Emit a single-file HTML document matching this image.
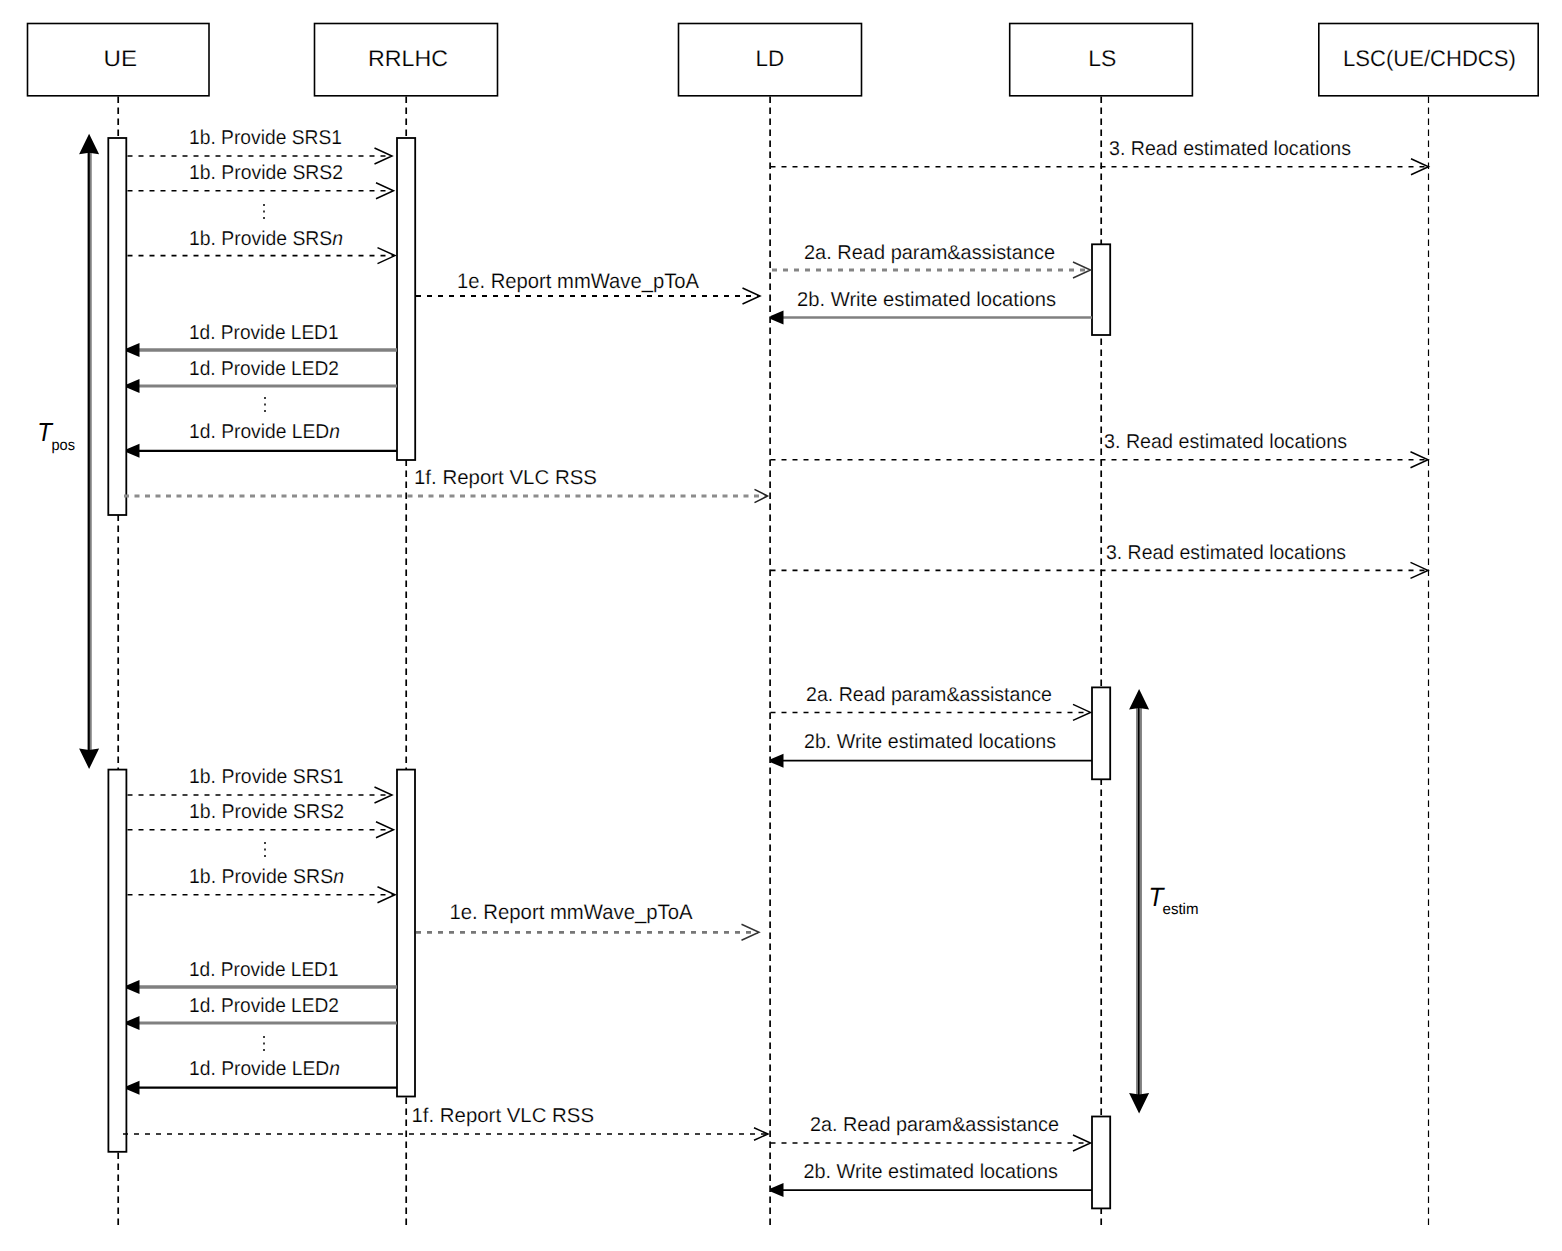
<!DOCTYPE html>
<html><head><meta charset="utf-8"><title>Sequence diagram</title>
<style>html,body{margin:0;padding:0;background:#fff;width:1562px;height:1251px;overflow:hidden}svg{display:block}text{font-family:"Liberation Sans", sans-serif;text-rendering:geometricPrecision}.t{stroke:#fff;stroke-width:0.2px}</style>
</head><body>
<svg width="1562" height="1251" viewBox="0 0 1562 1251" font-family='"Liberation Sans", sans-serif' fill="#000">
<rect x="27.5" y="23.5" width="181.5" height="72.3" fill="#fff" stroke="#000" stroke-width="1.6"/>
<rect x="314.5" y="23.5" width="183.0" height="72.3" fill="#fff" stroke="#000" stroke-width="1.6"/>
<rect x="678.5" y="23.5" width="183.0" height="72.3" fill="#fff" stroke="#000" stroke-width="1.6"/>
<rect x="1009.7" y="23.5" width="182.7" height="72.3" fill="#fff" stroke="#000" stroke-width="1.6"/>
<rect x="1318.8" y="23.5" width="219.4" height="72.3" fill="#fff" stroke="#000" stroke-width="1.6"/>
<line x1="118.2" y1="96.5" x2="118.2" y2="1226" stroke="#000" stroke-width="1.7" stroke-dasharray="6.5 4.5"/>
<line x1="406.2" y1="96.5" x2="406.2" y2="1226" stroke="#000" stroke-width="1.7" stroke-dasharray="6.5 4.5"/>
<line x1="770.1" y1="96.5" x2="770.1" y2="1226" stroke="#000" stroke-width="1.7" stroke-dasharray="6.5 4.5"/>
<line x1="1101.2" y1="96.5" x2="1101.2" y2="1226" stroke="#000" stroke-width="1.7" stroke-dasharray="6.5 4.5"/>
<line x1="1428.5" y1="96.5" x2="1428.5" y2="1226" stroke="#000" stroke-width="1.2" stroke-dasharray="6.5 4.5"/>
<rect x="108.3" y="138.0" width="18.0" height="377.0" fill="#fff" stroke="#000" stroke-width="1.8"/>
<rect x="397.0" y="138.0" width="18.2" height="322.0" fill="#fff" stroke="#000" stroke-width="1.8"/>
<rect x="1092.0" y="244.3" width="18.2" height="90.7" fill="#fff" stroke="#000" stroke-width="1.8"/>
<rect x="1092.0" y="687.4" width="18.2" height="91.9" fill="#fff" stroke="#000" stroke-width="1.8"/>
<rect x="108.4" y="769.6" width="18.0" height="382.2" fill="#fff" stroke="#000" stroke-width="1.8"/>
<rect x="397.0" y="769.6" width="18.0" height="326.9" fill="#fff" stroke="#000" stroke-width="1.8"/>
<rect x="1092.0" y="1116.5" width="18.2" height="91.9" fill="#fff" stroke="#000" stroke-width="1.8"/>
<text class="t" x="103.5" y="65.9" font-size="22.6" textLength="33.5" lengthAdjust="spacingAndGlyphs">UE</text>
<text class="t" x="368.0" y="65.9" font-size="22.6" textLength="80.0" lengthAdjust="spacingAndGlyphs">RRLHC</text>
<text class="t" x="755.5" y="65.9" font-size="22.6" textLength="28.7" lengthAdjust="spacingAndGlyphs">LD</text>
<text class="t" x="1088.3" y="65.9" font-size="22.6" textLength="28.1" lengthAdjust="spacingAndGlyphs">LS</text>
<text class="t" x="1343.0" y="65.9" font-size="22.6" textLength="172.8" lengthAdjust="spacingAndGlyphs">LSC(UE/CHDCS)</text>
<line x1="127.5" y1="156" x2="391" y2="156" stroke="#000" stroke-width="1.6" stroke-dasharray="5 6"/>
<polyline points="374.5,148.0 392,156 374.5,164.0" fill="none" stroke="#000" stroke-width="1.5"/>
<text class="t" x="189" y="144.2" font-size="20" textLength="153.0" lengthAdjust="spacingAndGlyphs">1b. Provide SRS1</text>
<line x1="127.5" y1="190.8" x2="392.5" y2="190.8" stroke="#000" stroke-width="1.6" stroke-dasharray="5 6"/>
<polyline points="376.0,182.8 393.5,190.8 376.0,198.8" fill="none" stroke="#000" stroke-width="1.5"/>
<text class="t" x="189" y="179.0" font-size="20" textLength="154.0" lengthAdjust="spacingAndGlyphs">1b. Provide SRS2</text>
<line x1="264" y1="204" x2="264" y2="223" stroke="#000" stroke-width="1.5" stroke-dasharray="2 4.5"/>
<line x1="127.5" y1="255.6" x2="394" y2="255.6" stroke="#000" stroke-width="1.6" stroke-dasharray="5 6"/>
<polyline points="377.5,247.6 395,255.6 377.5,263.6" fill="none" stroke="#000" stroke-width="1.5"/>
<text class="t" x="189" y="244.6" font-size="20" textLength="154.0" lengthAdjust="spacingAndGlyphs">1b. Provide SRS<tspan font-style="italic">n</tspan></text>
<line x1="770.5" y1="166.7" x2="1427.5" y2="166.7" stroke="#000" stroke-width="1.6" stroke-dasharray="5 6"/>
<polyline points="1411.0,158.7 1428.5,166.7 1411.0,174.7" fill="none" stroke="#000" stroke-width="1.5"/>
<text class="t" x="1109" y="154.6" font-size="20" textLength="242.0" lengthAdjust="spacingAndGlyphs">3. Read estimated locations</text>
<line x1="772" y1="270" x2="1089.5" y2="270" stroke="#858585" stroke-width="3" stroke-dasharray="5 6"/>
<polyline points="1073.0,262.0 1090.5,270 1073.0,278.0" fill="none" stroke="#333" stroke-width="1.5"/>
<text class="t" x="804" y="258.8" font-size="20" textLength="251.0" lengthAdjust="spacingAndGlyphs">2a. Read param&amp;assistance</text>
<line x1="416" y1="296" x2="759" y2="296" stroke="#000" stroke-width="2" stroke-dasharray="5 6"/>
<polyline points="742.5,288.0 760,296 742.5,304.0" fill="none" stroke="#000" stroke-width="1.5"/>
<text class="t" x="457" y="288.2" font-size="21" textLength="242.0" lengthAdjust="spacingAndGlyphs">1e. Report mmWave_pToA</text>
<line x1="1092" y1="317.5" x2="776.5" y2="317.5" stroke="#808080" stroke-width="2.6"/>
<polygon points="770.5,316.0 783.5,310.5 783.5,324.5 770.5,319.0" fill="#000"/>
<text class="t" x="797" y="306.0" font-size="20" textLength="259.0" lengthAdjust="spacingAndGlyphs">2b. Write estimated locations</text>
<line x1="397" y1="350" x2="132.5" y2="350" stroke="#808080" stroke-width="3.5"/>
<polygon points="126.5,348.5 139.5,343.0 139.5,357.0 126.5,351.5" fill="#000"/>
<text class="t" x="189" y="338.7" font-size="20" textLength="149.5" lengthAdjust="spacingAndGlyphs">1d. Provide LED1</text>
<line x1="397" y1="386" x2="132.5" y2="386" stroke="#808080" stroke-width="3"/>
<polygon points="126.5,384.5 139.5,379.0 139.5,393.0 126.5,387.5" fill="#000"/>
<text class="t" x="189" y="375.3" font-size="20" textLength="150.0" lengthAdjust="spacingAndGlyphs">1d. Provide LED2</text>
<line x1="265" y1="397" x2="265" y2="416" stroke="#000" stroke-width="1.5" stroke-dasharray="2 4.5"/>
<line x1="397" y1="450.8" x2="132.5" y2="450.8" stroke="#000" stroke-width="2.2"/>
<polygon points="126.5,449.3 139.5,443.8 139.5,457.8 126.5,452.3" fill="#000"/>
<text class="t" x="189" y="438.0" font-size="20" textLength="151.0" lengthAdjust="spacingAndGlyphs">1d. Provide LED<tspan font-style="italic">n</tspan></text>
<line x1="770.5" y1="459.8" x2="1427" y2="459.8" stroke="#000" stroke-width="1.6" stroke-dasharray="5 6"/>
<polyline points="1410.5,451.8 1428,459.8 1410.5,467.8" fill="none" stroke="#000" stroke-width="1.5"/>
<text class="t" x="1104" y="448.0" font-size="20" textLength="243.0" lengthAdjust="spacingAndGlyphs">3. Read estimated locations</text>
<line x1="124" y1="496" x2="766.5" y2="496" stroke="#8c8c8c" stroke-width="3.2" stroke-dasharray="5 5.5"/>
<polyline points="754.5,489.3 767.5,496 754.5,502.7" fill="none" stroke="#222" stroke-width="1.5"/>
<text class="t" x="414" y="484.4" font-size="20" textLength="183.0" lengthAdjust="spacingAndGlyphs">1f. Report VLC RSS</text>
<line x1="770.5" y1="570.4" x2="1427" y2="570.4" stroke="#000" stroke-width="1.6" stroke-dasharray="5 6"/>
<polyline points="1410.5,562.4 1428,570.4 1410.5,578.4" fill="none" stroke="#000" stroke-width="1.5"/>
<text class="t" x="1106" y="558.6" font-size="20" textLength="240.0" lengthAdjust="spacingAndGlyphs">3. Read estimated locations</text>
<line x1="770.5" y1="712.4" x2="1089.5" y2="712.4" stroke="#000" stroke-width="1.5" stroke-dasharray="5 6"/>
<polyline points="1073.0,704.4 1090.5,712.4 1073.0,720.4" fill="none" stroke="#000" stroke-width="1.5"/>
<text class="t" x="806" y="701.2" font-size="20" textLength="246.0" lengthAdjust="spacingAndGlyphs">2a. Read param&amp;assistance</text>
<line x1="1092" y1="760.7" x2="776.5" y2="760.7" stroke="#000" stroke-width="1.8"/>
<polygon points="770.5,759.2 783.5,753.7 783.5,767.7 770.5,762.2" fill="#000"/>
<text class="t" x="804" y="748.3" font-size="20" textLength="252.0" lengthAdjust="spacingAndGlyphs">2b. Write estimated locations</text>
<line x1="127.5" y1="795" x2="391" y2="795" stroke="#000" stroke-width="1.6" stroke-dasharray="5 6"/>
<polyline points="374.5,787.0 392,795 374.5,803.0" fill="none" stroke="#000" stroke-width="1.5"/>
<text class="t" x="189" y="783.0" font-size="20" textLength="154.5" lengthAdjust="spacingAndGlyphs">1b. Provide SRS1</text>
<line x1="127.5" y1="829.8" x2="392.5" y2="829.8" stroke="#000" stroke-width="1.6" stroke-dasharray="5 6"/>
<polyline points="376.0,821.8 393.5,829.8 376.0,837.8" fill="none" stroke="#000" stroke-width="1.5"/>
<text class="t" x="189" y="817.6" font-size="20" textLength="155.0" lengthAdjust="spacingAndGlyphs">1b. Provide SRS2</text>
<line x1="265" y1="842" x2="265" y2="860" stroke="#000" stroke-width="1.5" stroke-dasharray="2 4.5"/>
<line x1="127.5" y1="894.8" x2="394" y2="894.8" stroke="#000" stroke-width="1.6" stroke-dasharray="5 6"/>
<polyline points="377.5,886.8 395,894.8 377.5,902.8" fill="none" stroke="#000" stroke-width="1.5"/>
<text class="t" x="189" y="883.3" font-size="20" textLength="155.0" lengthAdjust="spacingAndGlyphs">1b. Provide SRS<tspan font-style="italic">n</tspan></text>
<line x1="416" y1="932.3" x2="758" y2="932.3" stroke="#777" stroke-width="2.8" stroke-dasharray="5 6"/>
<polyline points="741.5,924.3 759,932.3 741.5,940.3" fill="none" stroke="#333" stroke-width="1.5"/>
<text class="t" x="449.5" y="919.4" font-size="21" textLength="243.0" lengthAdjust="spacingAndGlyphs">1e. Report mmWave_pToA</text>
<line x1="397" y1="986.9" x2="132.5" y2="986.9" stroke="#808080" stroke-width="3.5"/>
<polygon points="126.5,985.4 139.5,979.9 139.5,993.9 126.5,988.4" fill="#000"/>
<text class="t" x="189" y="975.6" font-size="20" textLength="149.5" lengthAdjust="spacingAndGlyphs">1d. Provide LED1</text>
<line x1="397" y1="1023.1" x2="132.5" y2="1023.1" stroke="#808080" stroke-width="3"/>
<polygon points="126.5,1021.6 139.5,1016.1 139.5,1030.1 126.5,1024.6" fill="#000"/>
<text class="t" x="189" y="1011.9" font-size="20" textLength="150.0" lengthAdjust="spacingAndGlyphs">1d. Provide LED2</text>
<line x1="264" y1="1036" x2="264" y2="1055" stroke="#000" stroke-width="1.5" stroke-dasharray="2 4.5"/>
<line x1="397" y1="1087.7" x2="132.5" y2="1087.7" stroke="#000" stroke-width="2.2"/>
<polygon points="126.5,1086.2 139.5,1080.7 139.5,1094.7 126.5,1089.2" fill="#000"/>
<text class="t" x="189" y="1075.4" font-size="20" textLength="151.0" lengthAdjust="spacingAndGlyphs">1d. Provide LED<tspan font-style="italic">n</tspan></text>
<line x1="123" y1="1134" x2="767" y2="1134" stroke="#000" stroke-width="1.5" stroke-dasharray="5 6"/>
<polyline points="754,1127.8 768,1134 754,1140.2" fill="none" stroke="#000" stroke-width="1.5"/>
<text class="t" x="411.5" y="1121.5" font-size="20" textLength="182.5" lengthAdjust="spacingAndGlyphs">1f. Report VLC RSS</text>
<line x1="770.5" y1="1143" x2="1089.5" y2="1143" stroke="#000" stroke-width="1.5" stroke-dasharray="5 6"/>
<polyline points="1073.0,1135.0 1090.5,1143 1073.0,1151.0" fill="none" stroke="#000" stroke-width="1.5"/>
<text class="t" x="810" y="1130.6" font-size="20" textLength="249.0" lengthAdjust="spacingAndGlyphs">2a. Read param&amp;assistance</text>
<line x1="1092" y1="1190.1" x2="776.5" y2="1190.1" stroke="#000" stroke-width="1.8"/>
<polygon points="770.5,1188.6 783.5,1183.1 783.5,1197.1 770.5,1191.6" fill="#000"/>
<text class="t" x="803.5" y="1177.8" font-size="20" textLength="254.5" lengthAdjust="spacingAndGlyphs">2b. Write estimated locations</text>
<line x1="88.75" y1="148.8" x2="88.75" y2="754.0" stroke="#000" stroke-width="2.3"/>
<line x1="90.85" y1="148.8" x2="90.85" y2="754.0" stroke="#808080" stroke-width="1.8"/>
<polygon points="89.1,133.8 79.1,154.3 89.1,152.8 99.1,154.3" fill="#000"/>
<polygon points="89.1,769.0 79.1,748.5 89.1,750.0 99.1,748.5" fill="#000"/>
<line x1="1137.0" y1="703.9" x2="1137.0" y2="1098.6" stroke="#808080" stroke-width="1.9"/>
<line x1="1138.85" y1="703.9" x2="1138.85" y2="1098.6" stroke="#000" stroke-width="1.9"/>
<line x1="1140.9" y1="703.9" x2="1140.9" y2="1098.6" stroke="#808080" stroke-width="2.1"/>
<polygon points="1139.1,688.9 1129.1,709.4 1139.1,707.9 1149.1,709.4" fill="#000"/>
<polygon points="1139.1,1113.6 1129.1,1093.1 1139.1,1094.6 1149.1,1093.1" fill="#000"/>
<text transform="translate(37.2,441) scale(0.92,1)" font-size="26" font-style="italic">T</text>
<text x="51.5" y="449.7" font-size="15.5" textLength="23.5" lengthAdjust="spacingAndGlyphs">pos</text>
<text transform="translate(1148.6,905.9) scale(0.92,1)" font-size="26.5" font-style="italic">T</text>
<text x="1162.5" y="913.8" font-size="15.5" textLength="36" lengthAdjust="spacingAndGlyphs">estim</text>
</svg>
</body></html>
